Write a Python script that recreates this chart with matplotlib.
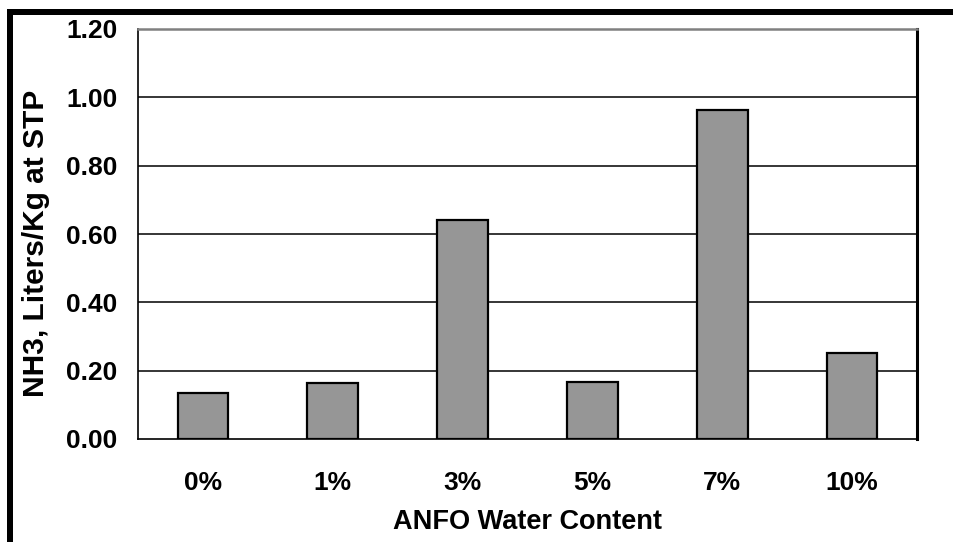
import matplotlib
matplotlib.use('Agg')
import matplotlib.pyplot as plt
from matplotlib.patches import Rectangle

# ANFO water content vs NH3 produced
categories = ['0%', '1%', '3%', '5%', '7%', '10%']
nh3_values = [0.135, 0.165, 0.64, 0.168, 0.963, 0.253]
y_ticks = [0.0, 0.2, 0.4, 0.6, 0.8, 1.0, 1.2]

plt.rcParams['font.family'] = ['Liberation Sans', 'DejaVu Sans']
plt.rcParams['font.weight'] = 'bold'

W, H = 954, 542
fig = plt.figure(figsize=(W / 100, H / 100), dpi=100)
ax = fig.add_axes([138 / W, (H - 439) / H, (917 - 138) / W, (439 - 29) / H])

x = range(len(categories))
ax.bar(x, nh3_values, width=0.39, color='#969696', edgecolor='black',
       linewidth=1.6, zorder=3)

ax.set_xlim(-0.5, len(categories) - 0.5)
ax.set_ylim(0, 1.2)
ax.set_yticks(y_ticks)
ax.set_yticklabels([f'{v:.2f}' for v in y_ticks])
ax.set_xticks(list(x))
ax.set_xticklabels(categories)
ax.tick_params(axis='both', length=0, labelsize=19)
ax.tick_params(axis='y', pad=15)
ax.tick_params(axis='x', pad=23)

# horizontal gridlines
for v in y_ticks[1:-1]:
    ax.axhline(v, color='black', linewidth=1.1, zorder=1)

for side in ['left', 'bottom']:
    ax.spines[side].set_linewidth(1.2)
ax.spines['top'].set_color('#808080')
ax.spines['top'].set_linewidth(1.8)
ax.spines['right'].set_linewidth(2.2)

ax.set_xlabel('ANFO Water Content', fontsize=19.5, fontweight='bold', labelpad=10)
ax.set_ylabel('NH3, Liters/Kg at STP', fontsize=21.5, fontweight='bold')
ax.yaxis.set_label_coords(-0.113, 0.476)

# thick black border on left and top of the picture
fig.add_artist(Rectangle((7 / W, 0), 6 / W, (H - 9) / H, transform=fig.transFigure,
                         color='black', linewidth=0))
fig.add_artist(Rectangle((7 / W, (H - 15) / H), (W - 7) / W, 6 / H,
                         transform=fig.transFigure, color='black', linewidth=0))

fig.savefig('out.png', dpi=100)
